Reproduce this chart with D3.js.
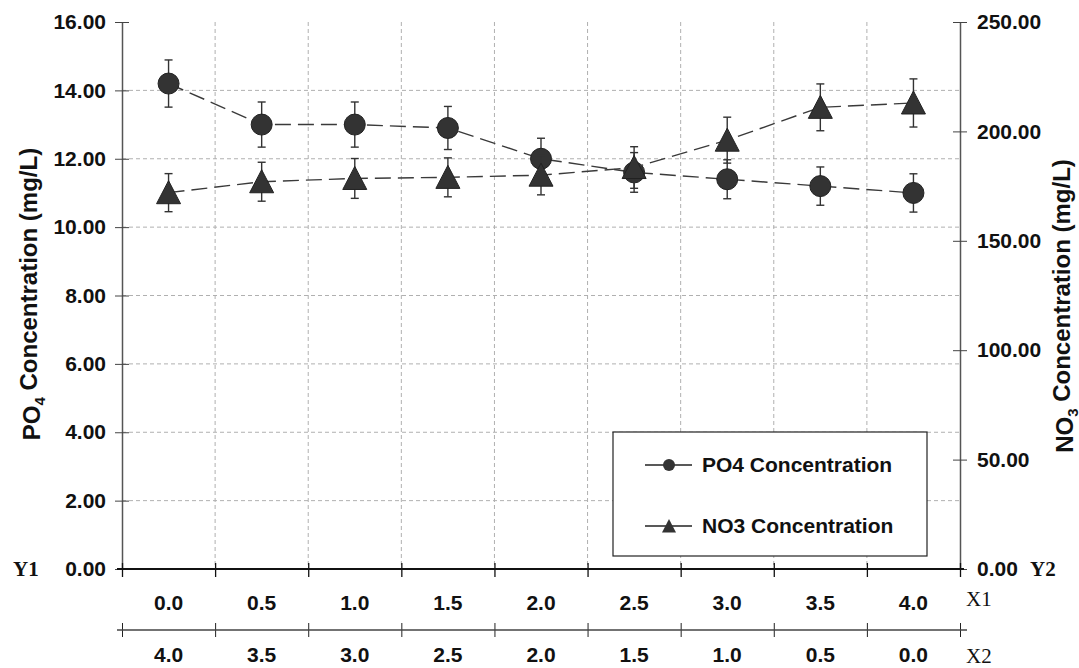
<!DOCTYPE html>
<html>
<head>
<meta charset="utf-8">
<script src="https://cdn.jsdelivr.net/npm/d3@7"></script>
<style>
  body { margin: 0; background: #fff; }
  svg text { font-family: "Liberation Sans", Arial, sans-serif; font-weight: bold; fill: #111; }
  svg text.serif { font-family: "Liberation Serif", "Times New Roman", serif; }
</style>
</head>
<body>
<div id="chart"></div>
<script>
const width = 1079
const height = 668
const margin = {top: 22, right: 119, bottom: 99, left: 122}
const innerW = width - margin.left - margin.right
const innerH = height - margin.top - margin.bottom

// data
const x1Labels = ["0.0", "0.5", "1.0", "1.5", "2.0", "2.5", "3.0", "3.5", "4.0"]
const x2Labels = ["4.0", "3.5", "3.0", "2.5", "2.0", "1.5", "1.0", "0.5", "0.0"]
const po4 = [14.2, 13.0, 13.0, 12.9, 12.0, 11.6, 11.4, 11.2, 11.0]
const po4Err = [0.69, 0.66, 0.66, 0.63, 0.60, 0.58, 0.57, 0.56, 0.56]
const no3 = [172, 177, 178.5, 179, 180, 183.5, 196, 211, 213]
const no3Err = [8.7, 8.9, 9.1, 8.9, 9.0, 9.5, 10.5, 10.7, 11.0]
const y1Ticks = [0, 2, 4, 6, 8, 10, 12, 14, 16]
const y2Ticks = [0, 50, 100, 150, 200, 250]

const ink = "#333"

const svg = d3.select("#chart")
  .append("svg")
    .attr("width", width)
    .attr("height", height)
  .append("g")
    .attr("transform", `translate(${margin.left},${margin.top})`)

// scales
const x = d3.scaleBand().domain(d3.range(x1Labels.length)).range([0, innerW])
const xEdge = d3.scaleLinear().domain([0, x1Labels.length]).range([0, innerW])
const y1 = d3.scaleLinear().domain([0, 16]).range([innerH, 0])
const y2 = d3.scaleLinear().domain([0, 250]).range([innerH, 0])
const cx = i => x(i) + x.bandwidth() / 2

// grid
svg.append("g").selectAll("line")
  .data(y1Ticks.filter(d => d > 0 && d < 16))
  .enter().append("line")
    .attr("x1", 0).attr("x2", innerW)
    .attr("y1", d => y1(d)).attr("y2", d => y1(d))
    .attr("stroke", "#b0b0b0").attr("stroke-dasharray", "4,3")

svg.append("g").selectAll("line")
  .data(d3.range(1, x1Labels.length))
  .enter().append("line")
    .attr("x1", d => xEdge(d)).attr("x2", d => xEdge(d))
    .attr("y1", 0).attr("y2", innerH)
    .attr("stroke", "#b0b0b0").attr("stroke-dasharray", "4,3")

// left axis
const axL = svg.append("g")
  .call(d3.axisLeft(y1).tickValues(y1Ticks).tickFormat(d3.format(".2f"))
    .tickSize(7).tickSizeOuter(0).tickPadding(9))
axL.select(".domain").attr("stroke", "#555").attr("stroke-width", 1.5)
axL.selectAll(".tick line").attr("x1", 7).attr("stroke", "#444")
axL.selectAll(".tick text").style("font-size", "21px").attr("fill", "#111")

// right axis
const axR = svg.append("g")
  .attr("transform", `translate(${innerW},0)`)
  .call(d3.axisRight(y2).tickValues(y2Ticks).tickFormat(d3.format(".2f"))
    .tickSize(7).tickSizeOuter(0).tickPadding(10))
axR.select(".domain").attr("stroke", "#555").attr("stroke-width", 1.5)
axR.selectAll(".tick line").attr("x1", -7).attr("stroke", "#444")
axR.selectAll(".tick text").style("font-size", "21px").attr("fill", "#111")

// bottom axis X1
const axB = svg.append("g")
  .attr("transform", `translate(0,${innerH})`)
  .call(d3.axisBottom(xEdge).tickValues(d3.range(x1Labels.length + 1)).tickFormat("")
    .tickSize(8).tickSizeOuter(0))
axB.select(".domain").remove()
axB.selectAll(".tick line").attr("y1", -6).attr("stroke", "#111").attr("stroke-width", 1.3)
axB.append("line")
  .attr("x1", -5).attr("x2", innerW + 4)
  .attr("stroke", "#111").attr("stroke-width", 2.2)

svg.append("g").selectAll("text")
  .data(x1Labels)
  .enter().append("text")
    .attr("x", (d, i) => cx(i))
    .attr("y", innerH + 34)
    .attr("dy", "0.35em")
    .attr("text-anchor", "middle")
    .style("font-size", "21px")
    .text(d => d)

// second axis X2
const x2Y = innerH + 61
const axB2 = svg.append("g")
  .attr("transform", `translate(0,${x2Y})`)
  .call(d3.axisBottom(xEdge).tickValues(d3.range(x2Labels.length + 1)).tickFormat("")
    .tickSize(7).tickSizeOuter(0))
axB2.select(".domain").remove()
axB2.selectAll(".tick line").attr("y1", -7).attr("stroke", "#222")
axB2.append("line")
  .attr("x1", -5).attr("x2", innerW + 7)
  .attr("stroke", "#444").attr("stroke-width", 1.3)

svg.append("g").selectAll("text")
  .data(x2Labels)
  .enter().append("text")
    .attr("x", (d, i) => cx(i))
    .attr("y", x2Y + 25)
    .attr("dy", "0.35em")
    .attr("text-anchor", "middle")
    .style("font-size", "21px")
    .text(d => d)

// axis name tags
const tags = [
  {t: "Y1", x: 13, y: innerH, w: "bold"},
  {t: "Y2", x: 1030, y: innerH, w: "bold"},
  {t: "X1", x: 966, y: innerH + 30, w: "normal"},
  {t: "X2", x: 966, y: x2Y + 26, w: "normal"}
]
svg.append("g").selectAll("text")
  .data(tags)
  .enter().append("text")
    .attr("class", "serif")
    .attr("x", d => d.x - margin.left).attr("y", d => d.y)
    .attr("dy", "0.35em")
    .style("font-size", "21px")
    .style("font-weight", d => d.w)
    .text(d => d.t)

// axis titles with subscripts
function title(g, main, sub, rest) {
  const t = g.append("text").attr("text-anchor", "middle").style("font-size", "24px")
  t.append("tspan").text(main)
  t.append("tspan").attr("dy", "0.3em").style("font-size", "15px").text(sub)
  t.append("tspan").attr("dy", "-0.3em").text(rest)
}
title(svg.append("g").attr("transform", `translate(${40 - margin.left},${294 - margin.top}) rotate(-90)`),
  "PO", "4", " Concentration (mg/L)")
title(svg.append("g").attr("transform", `translate(${1073 - margin.left},${306 - margin.top}) rotate(-90)`),
  "NO", "3", " Concentration (mg/L)")

// series
const series = [
  {name: "PO4 Concentration", values: po4, err: po4Err, y: y1, shape: "circle"},
  {name: "NO3 Concentration", values: no3, err: no3Err, y: y2, shape: "triangle"}
]
const triPath = s => `M0,${-s}L${s},${s * 0.92}L${-s},${s * 0.92}Z`

series.forEach(s => {
  const line = d3.line().x((d, i) => cx(i)).y(d => s.y(d))
  svg.append("path")
    .datum(s.values)
    .attr("d", line)
    .attr("fill", "none")
    .attr("stroke", "#3a3a3a")
    .attr("stroke-width", 1.4)
    .attr("stroke-dasharray", "16,7")

  const eb = svg.append("g").selectAll("g")
    .data(s.values)
    .enter().append("g")
      .attr("stroke", ink).attr("stroke-width", 1.4)
  eb.append("line")
    .attr("x1", (d, i) => cx(i)).attr("x2", (d, i) => cx(i))
    .attr("y1", (d, i) => s.y(d - s.err[i])).attr("y2", (d, i) => s.y(d + s.err[i]))
  eb.append("line")
    .attr("x1", (d, i) => cx(i) - 4).attr("x2", (d, i) => cx(i) + 4)
    .attr("y1", (d, i) => s.y(d + s.err[i])).attr("y2", (d, i) => s.y(d + s.err[i]))
  eb.append("line")
    .attr("x1", (d, i) => cx(i) - 4).attr("x2", (d, i) => cx(i) + 4)
    .attr("y1", (d, i) => s.y(d - s.err[i])).attr("y2", (d, i) => s.y(d - s.err[i]))

  const pts = svg.append("g").selectAll("path")
    .data(s.values)
    .enter()
  if (s.shape == "circle") {
    pts.append("circle")
      .attr("cx", (d, i) => cx(i)).attr("cy", d => s.y(d))
      .attr("r", 10.5)
      .attr("fill", ink).attr("stroke", "#222")
  } else {
    pts.append("path")
      .attr("transform", (d, i) => `translate(${cx(i)},${s.y(d)})`)
      .attr("d", triPath(12))
      .attr("fill", ink).attr("stroke", "#222")
  }
})

// legend
const lg = svg.append("g").attr("transform", `translate(${613 - margin.left},${432 - margin.top})`)
lg.append("rect")
  .attr("width", 314).attr("height", 124)
  .attr("fill", "#fff").attr("stroke", "#222").attr("stroke-width", 1.2)

const item = lg.selectAll(".item")
  .data(series)
  .enter().append("g")
    .attr("transform", (d, i) => `translate(0,${33 + i * 61})`)
item.append("line")
  .attr("x1", 32).attr("x2", 79)
  .attr("stroke", "#222").attr("stroke-width", 1.3)
item.filter(d => d.shape == "circle").append("circle")
  .attr("cx", 56).attr("r", 6).attr("fill", ink)
item.filter(d => d.shape == "triangle").append("path")
  .attr("transform", "translate(56,0)")
  .attr("d", triPath(7)).attr("fill", ink)
item.append("text")
  .attr("x", 89)
  .attr("dy", "0.35em")
  .style("font-size", "21px")
  .text(d => d.name)
</script>
</body>
</html>
